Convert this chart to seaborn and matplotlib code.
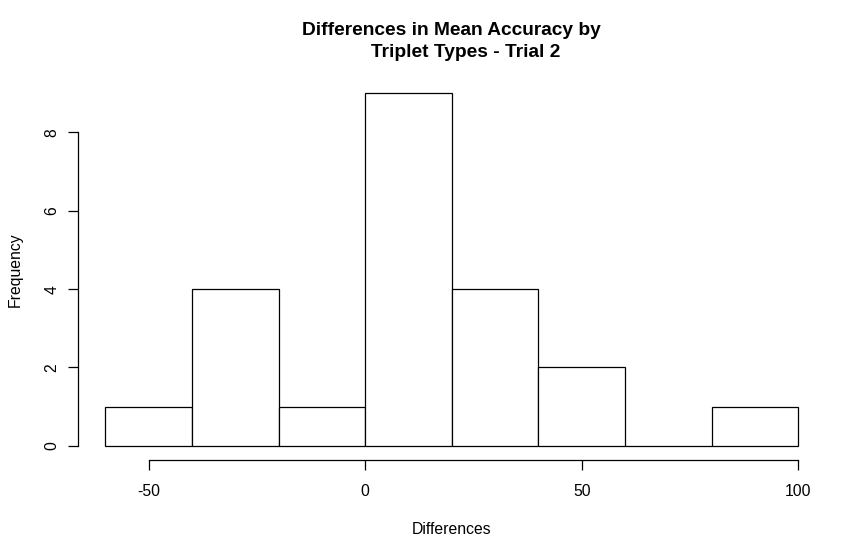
import matplotlib
matplotlib.use("Agg")
import matplotlib.pyplot as plt
import seaborn as sns

# histogram bins
bin_edges = [-60, -40, -20, 0, 20, 40, 60, 80, 100]
counts = [1, 4, 1, 9, 4, 2, 0, 1]
bin_mids = [(a + b) / 2 for a, b in zip(bin_edges[:-1], bin_edges[1:])]
x_ticks = [-50, 0, 50, 100]
y_ticks = [0, 2, 4, 6, 8]

sns.set_style("white")
plt.rcParams["font.family"] = ["Liberation Sans", "DejaVu Sans"]
plt.rcParams["axes.unicode_minus"] = False
plt.rcParams["text.color"] = "black"
plt.rcParams["axes.labelcolor"] = "black"
plt.rcParams["xtick.color"] = "black"
plt.rcParams["ytick.color"] = "black"

fig = plt.figure(figsize=(8.68, 5.6), dpi=100)
ax = fig.add_axes([0.0895, 0.1786, 0.8621, 0.6804])

sns.histplot(x=bin_mids, weights=counts, bins=bin_edges, ax=ax,
             color="white", edgecolor="black", linewidth=0.9, alpha=1)

ax.set_xlim(-66.4, 106.4)
ax.set_ylim(-0.36, 9.36)
ax.set_xticks(x_ticks)
ax.set_yticks(y_ticks)
ax.set_yticklabels([str(v) for v in y_ticks], rotation=90, va="center")

for s in ["top", "right"]:
    ax.spines[s].set_visible(False)
ax.spines["left"].set_bounds(0, 8)
ax.spines["bottom"].set_bounds(-50, 100)
for s in ["left", "bottom"]:
    ax.spines[s].set_color("black")
    ax.spines[s].set_linewidth(0.9)
ax.tick_params(axis="both", direction="out", length=7, width=0.9,
               color="black", labelsize=11.3, bottom=True, left=True)
ax.tick_params(axis="x", pad=10)
ax.tick_params(axis="y", pad=6)

ax.set_xlabel("Differences", fontsize=11.3, labelpad=17)
ax.set_ylabel("Frequency", fontsize=11.3, labelpad=16)
ax.set_title("Differences in Mean Accuracy by\n     Triplet Types - Trial 2",
             fontsize=13.8, fontweight="bold", pad=16, linespacing=1.35)

plt.savefig("out.png", dpi=100)
plt.close()
